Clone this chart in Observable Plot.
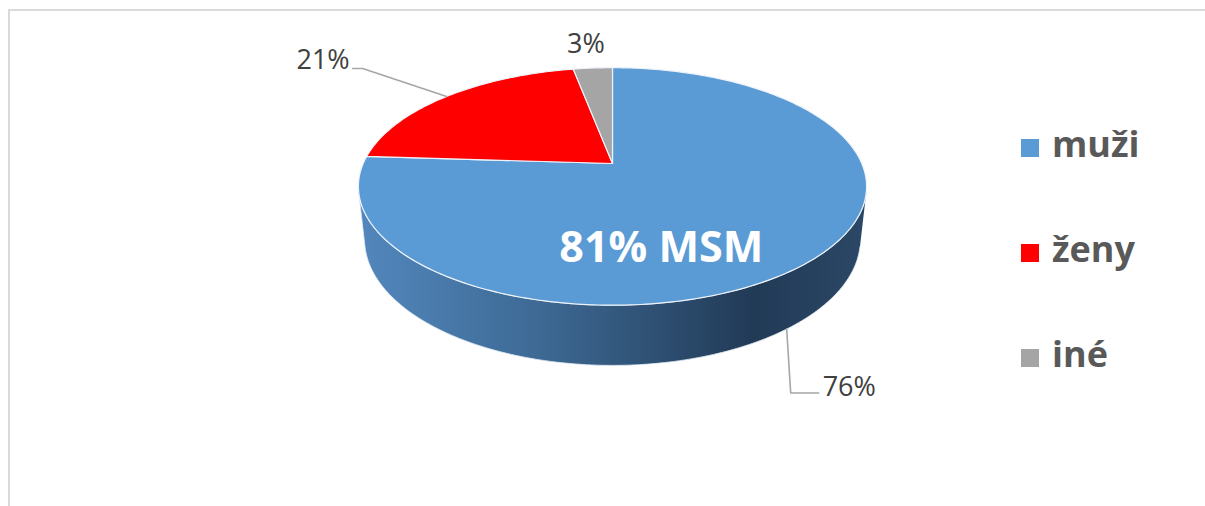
<!DOCTYPE html>
<html>
<head>
<meta charset="utf-8">
<script src="https://cdn.jsdelivr.net/npm/d3@7"></script>
<script src="https://cdn.jsdelivr.net/npm/@observablehq/plot@0.6"></script>
<style>
  body { margin: 0; background: #fff; font-family: "Open Sans", sans-serif; }
  #wrap { position: relative; width: 1205px; height: 506px; overflow: hidden; background: #fff; }
  #chart { position: absolute; left: 0; top: 0; }
  #frame { position: absolute; left: 8px; top: 9px; width: 1300px; height: 700px;
           border-left: 2px solid #d9d9d9; border-top: 2px solid #d9d9d9; pointer-events: none; }
  .lg-sw { position: absolute; width: 18px; height: 18px; }
  .lg-tx { position: absolute; font-weight: 700; font-size: 36px; line-height: 36px; color: #595959; white-space: nowrap; }
</style>
</head>
<body>
<div id="wrap"><div id="chart"></div><div id="frame"></div></div>
<script>
// ---- data ----
const categories = ["muži", "ženy", "iné"];
const values = [76, 21, 3];
const colors = ["#5B9BD5", "#FF0000", "#A5A5A5"];
const valueLabels = ["76%", "21%", "3%"];
const innerLabel = "81% MSM";

// ---- layout: 3D perspective view of a pie of radius 1 ----
const W = 1205, H = 506;
const cx = 612, cy = 163, scalePx = 249.3;   // screen centre of pie apex and px per projected unit
const phi = 27.3 * Math.PI / 180;            // camera elevation
const L = 4.6;                               // camera distance (pie radii)
const thick = 0.241;                         // pie thickness (pie radii)
const sinP = Math.sin(phi), cosP = Math.cos(phi);

// project a 3D point: X right, Y up, Z backwards (away from viewer)
function proj(X, Y, Z) {
  const d = L - Y * sinP + Z * cosP;
  return {x: X * L / d, y: (Y * cosP + Z * sinP) * L / d};
}
const onRim = (a, r = 1, Y = 0) => proj(r * Math.sin(a), Y, r * Math.cos(a));

const pie = d3.pie().sort(null).startAngle(0).endAngle(2 * Math.PI);
const arcs = pie(values).map((a, i) => ({...a, key: categories[i], color: colors[i], label: valueLabels[i]}));

function rimPts(a0, a1, Y = 0) {
  const n = Math.max(2, Math.ceil((a1 - a0) / (Math.PI / 180)));
  return d3.range(n + 1).map(i => onRim(a0 + (a1 - a0) * i / n, 1, Y));
}

// top faces
const apex = proj(0, 0, 0);
const topPolys = arcs.flatMap(s =>
  [apex, ...rimPts(s.startAngle, s.endAngle), apex].map(p => ({...p, key: s.key, color: s.color})));

// visible side: between silhouette angles
const cSil = -1 / (L * cosP);
const silA = Math.acos(cSil), silB = 2 * Math.PI - silA;
const sidePolys = arcs.flatMap(s => {
  const s0 = Math.max(s.startAngle, silA), s1 = Math.min(s.endAngle, silB);
  if (s1 <= s0) return [];
  return [...rimPts(s0, s1, 0), ...rimPts(s0, s1, -thick).reverse()].map(p => ({...p, key: s.key, color: s.color}));
});

// labels and leader lines
const mid = s => (s.startAngle + s.endAngle) / 2;
const ux = px => px / scalePx, uy = px => -px / scalePx;
const leaders = [];
const textMarks = [];
{ // 76% : from the side bottom, down then right
  const s = arcs[0], a = onRim(mid(s) + 0.10, 1, -thick);
  const p1 = {x: a.x + ux(4), y: a.y + uy(64)}, p2 = {x: p1.x + ux(28), y: p1.y};
  leaders.push(...[a, p1, p2].map(p => ({...p, key: s.key})));
  textMarks.push({x: p2.x, y: p2.y, text: s.label, anchor: "start", dx: 4, dy: -6});
}
{ // 21% : from the top edge, up-left then left
  const s = arcs[1], a = onRim(mid(s));
  const p1 = {x: a.x + ux(-84), y: a.y + uy(-28)}, p2 = {x: p1.x + ux(-10), y: p1.y};
  leaders.push(...[a, p1, p2].map(p => ({...p, key: s.key})));
  textMarks.push({x: p2.x, y: p2.y, text: s.label, anchor: "end", dx: -3, dy: -8});
}
{ // 3% : above the slice
  const s = arcs[2], a = onRim(mid(s));
  textMarks.push({x: a.x, y: a.y, text: s.label, anchor: "middle", dx: -7, dy: -24});
}
const innerPos = onRim(mid(arcs[0]), 0.55);

const chart = Plot.plot({
  width: W, height: H, margin: 0,
  x: {domain: [-1, 1], range: [cx - scalePx, cx + scalePx], axis: null},
  y: {domain: [1, -1], range: [cy - scalePx, cy + scalePx], axis: null},
  color: {type: "identity"},
  style: {fontFamily: "'Open Sans', sans-serif", background: "transparent", overflow: "visible"},
  marks: [
    Plot.line(sidePolys, {x: "x", y: "y", z: "key", fill: "url(#sideGrad)", stroke: "#dfe8f2", strokeWidth: 0.8, curve: "linear"}),
    Plot.line(topPolys, {x: "x", y: "y", z: "key", fill: "color", stroke: "#eef3f9", strokeWidth: 1.2, strokeLinejoin: "round", curve: "linear"}),
    Plot.line(leaders, {x: "x", y: "y", z: "key", stroke: "#a6a6a6", strokeWidth: 1.6, curve: "linear"}),
    ...textMarks.map(t => Plot.text([t], {x: "x", y: "y", text: "text", textAnchor: t.anchor, dx: t.dx, dy: t.dy,
      fontSize: 27, fill: "#404040"})),
    Plot.text([{x: innerPos.x, y: innerPos.y, text: innerLabel}], {x: "x", y: "y", text: "text", dx: -53, dy: 35,
      fontSize: 43, fontWeight: 700, fill: "#ffffff"})
  ]
});

// gradient for the pie side
const defs = d3.select(chart).insert("defs", ":first-child");
const g = defs.append("linearGradient").attr("id", "sideGrad").attr("x1", "0").attr("x2", "1").attr("y1", "0").attr("y2", "0");
[["0%", "#5287bd"], ["35%", "#3e6a95"], ["78%", "#213a56"], ["100%", "#2b4866"]]
  .forEach(([o, c]) => g.append("stop").attr("offset", o).attr("stop-color", c));

document.getElementById("chart").appendChild(chart);

// legend
const wrap = document.getElementById("wrap");
const legendTop = 148, legendStep = 105;
categories.forEach((c, i) => {
  const yc = legendTop + i * legendStep;
  const sw = document.createElement("div");
  sw.className = "lg-sw";
  sw.style.left = "1021px"; sw.style.top = (yc - 9) + "px"; sw.style.background = colors[i];
  const tx = document.createElement("div");
  tx.className = "lg-tx";
  tx.style.left = "1052px"; tx.style.top = (yc - 22) + "px";
  tx.textContent = c;
  wrap.appendChild(sw); wrap.appendChild(tx);
});
</script>
</body>
</html>
